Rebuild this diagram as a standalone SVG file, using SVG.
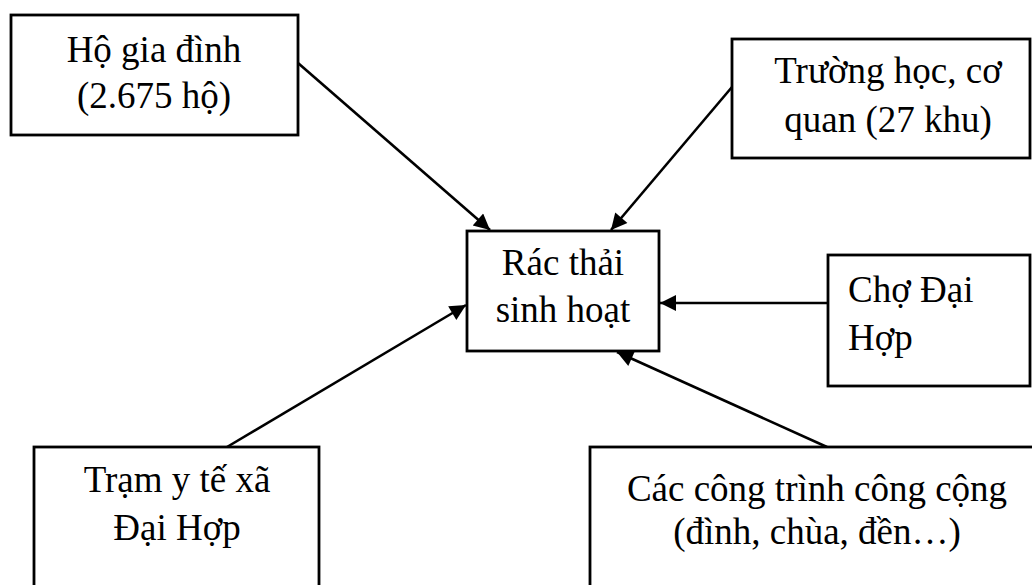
<svg xmlns="http://www.w3.org/2000/svg" width="1032" height="585" viewBox="0 0 1032 585">
<style>
.box{fill:#fff;stroke:#000;stroke-width:2.8}
.t{font-family:"Liberation Serif","Times New Roman",serif;font-size:37px;fill:#000}
.c{text-anchor:middle}
.ln{stroke:#000;stroke-width:2.6;fill:none;marker-end:url(#ah)}
</style>
<defs>
<marker id="ah" viewBox="0 0 10 10" refX="10" refY="5" markerWidth="19" markerHeight="16" markerUnits="userSpaceOnUse" orient="auto">
<path d="M0,0 L10,5 L0,10 z" fill="#000"/>
</marker>
</defs>
<rect width="1032" height="585" fill="#fff"/>
<g id="connectors">
<line class="ln" x1="298" y1="63" x2="490" y2="230"/>
<line class="ln" x1="732" y1="87" x2="611" y2="230"/>
<line class="ln" x1="828" y1="303" x2="660" y2="303"/>
<line class="ln" x1="227" y1="447" x2="466" y2="305"/>
<line class="ln" x1="827" y1="447" x2="617" y2="352"/>
</g>
<g id="ho-gia-dinh">
<rect class="box" x="11" y="15" width="287" height="120"/>
<text class="t c" x="154" y="62">Hộ gia đình</text>
<text class="t c" x="154" y="108">(2.675 hộ)</text>
</g>
<g id="truong-hoc">
<rect class="box" x="732" y="39" width="298" height="119"/>
<text class="t c" x="888" y="83">Trường học, cơ</text>
<text class="t c" x="888" y="132">quan (27 khu)</text>
</g>
<g id="rac-thai">
<rect class="box" x="467" y="231" width="192" height="120"/>
<text class="t c" x="563" y="275">Rác thải</text>
<text class="t c" x="563" y="322">sinh hoạt</text>
</g>
<g id="cho-dai-hop">
<rect class="box" x="828" y="255" width="202" height="131"/>
<text class="t" x="848" y="302">Chợ Đại</text>
<text class="t" x="848" y="350">Hợp</text>
</g>
<g id="tram-y-te">
<rect class="box" x="34" y="447" width="285" height="150"/>
<text class="t c" x="177" y="492">Trạm y tế xã</text>
<text class="t c" x="177" y="540">Đại Hợp</text>
</g>
<g id="cong-trinh">
<rect class="box" x="590" y="447" width="460" height="150"/>
<text class="t c" x="817" y="501">Các công trình công cộng</text>
<text class="t c" x="817" y="544">(đình, chùa, đền…)</text>
</g>
</svg>
